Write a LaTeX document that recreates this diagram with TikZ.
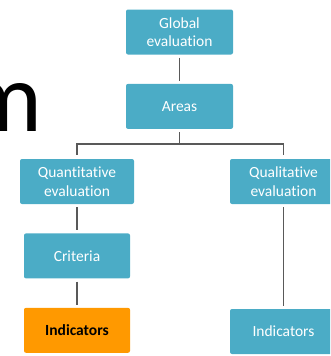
\documentclass[tikz,border=0pt]{standalone}
\usepackage{fontspec}
\setmainfont[Ligatures=NoCommon]{Carlito}
\usetikzlibrary{calc,positioning}
\definecolor{boxblue}{HTML}{4BACC6}
\definecolor{boxorange}{HTML}{FF9900}
\definecolor{linkgray}{HTML}{595959}
\tikzset{
	tree diagram/.style={
		x=1pt, y=-1pt,
		node distance=29pt and 1pt,
		box/.style={
			fill=boxblue, text=white, rounded corners=2pt,
			minimum width=107pt, minimum height=45pt,
			align=center, inner sep=2pt,
			font=\fontsize{15.5}{18.5}\selectfont},
		hl box/.style={box, fill=boxorange, text=black,
			font=\fontsize{15.5}{18.5}\selectfont\bfseries},
		link/.style={draw=linkgray, line width=1.8pt, shorten <=3pt, shorten >=3pt}
		}
}

\begin{document}
\begin{tikzpicture}[tree diagram]
      \useasboundingbox (0,0) rectangle (330,356);
      \clip (0,0) rectangle (330,356);
      % title letter cut at the left edge
      \node[anchor=base east, inner sep=0pt, font=\fontsize{99}{99}\selectfont] (title) at (43,131) {m};
      % tree
      \node[box] (global) at (179.5,32) {Global\\evaluation};
      \node[box, below=of global] (areas) {Areas};
      \node[box, minimum width=114pt] (quant) at (77,181.5) {Quantitative\\evaluation};
      \node[box, minimum width=106pt, below=of quant] (crit) {Criteria};
      \node[hl box, minimum width=106pt, below=of crit] (quantind) {Indicators};
      \node[box] (qual) at (283.5,181.5) {Qualitative\\evaluation};
      \node[box] (qualind) at (283.5,331.5) {Indicators};
      \coordinate (split) at ($(areas.south)+(0,15)$);
      \draw[link] (global) -- (areas);
      \draw[link, shorten >=0pt] (areas) -- (split);
      \draw[link, shorten <=4pt, shorten >=4pt] (quant.north) |- (split) -| (qual.north);
      \draw[link] (quant) -- (crit);
      \draw[link] (crit) -- (quantind);
      \draw[link] (qual) -- (qualind);
   \end{tikzpicture}
\end{document}
